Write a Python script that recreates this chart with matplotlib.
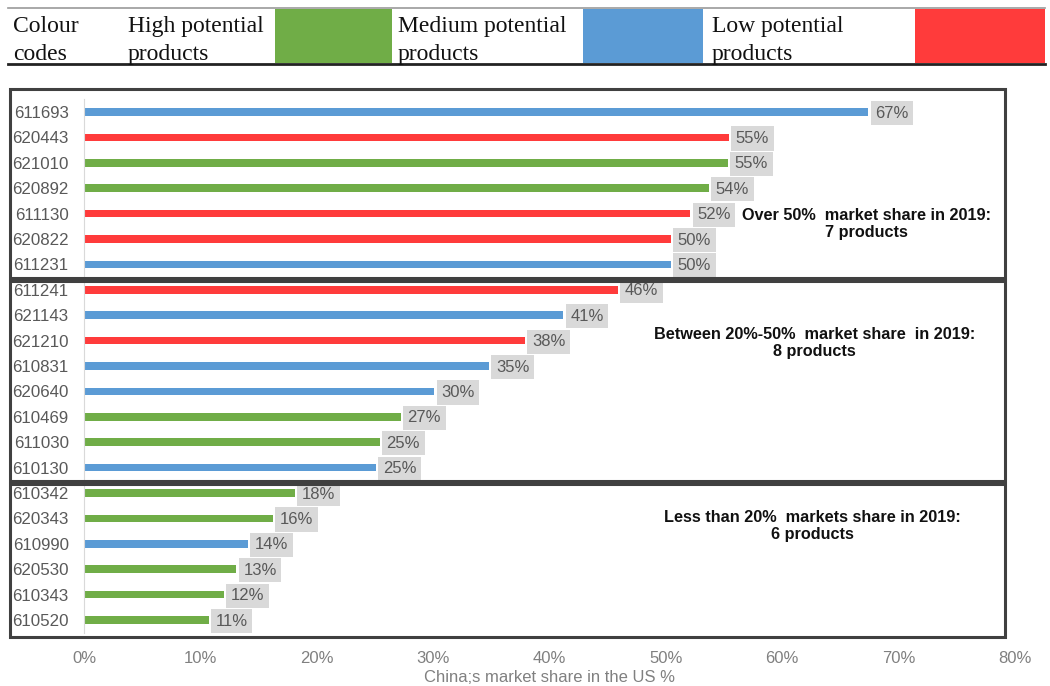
import matplotlib.pyplot as plt
from matplotlib.patches import Rectangle
from matplotlib.lines import Line2D

# product codes top to bottom, China's share of US market (%)
codes = ['611693', '620443', '621010', '620892', '611130', '620822', '611231',
         '611241', '621143', '621210', '610831', '620640', '610469', '611030', '610130',
         '610342', '620343', '610990', '620530', '610343', '610520']
shares = [67.4, 55.4, 55.3, 53.7, 52.1, 50.4, 50.4,
          45.9, 41.2, 37.9, 34.8, 30.1, 27.2, 25.4, 25.1,
          18.1, 16.2, 14.1, 13.1, 12.0, 10.7]
potential = ['low', 'high', 'med', 'med', 'high', 'high', 'low',
             'high', 'low', 'high', 'low', 'low', 'med', 'med', 'low',
             'med', 'med', 'low', 'med', 'med', 'med']
xticks = [0, 10, 20, 30, 40, 50, 60, 70, 80]

colours = {'med': '#70AD47', 'low': '#5B9BD5', 'high': '#FF3B3B'}

plt.rcParams['font.family'] = ['Liberation Sans', 'DejaVu Sans']
W, H = 1050, 686
fig = plt.figure(figsize=(W / 100, H / 100), dpi=100)

def fx(px):
    return px / W

def fy(py):
    return 1 - py / H

# colour code table at the top
serif = ['Liberation Serif', 'DejaVu Serif']
fig.add_artist(Line2D([fx(8), fx(1045)], [fy(8), fy(8)], color='#999999', lw=1.2))
fig.add_artist(Line2D([fx(8), fx(1045)], [fy(64), fy(64)], color='#222222', lw=2))
for x0, x1, c in [(275, 392, colours['med']), (583, 703, colours['low']), (915, 1045, colours['high'])]:
    fig.add_artist(Rectangle((fx(x0), fy(63)), fx(x1 - x0), (54 / H), facecolor=c, edgecolor='none'))
for x, line1, line2 in [(13, 'Colour', 'codes'), (128, 'High potential', 'products'),
                        (398, 'Medium potential', 'products'), (712, 'Low potential', 'products')]:
    fig.text(fx(x), fy(32), line1, family=serif, fontsize=17, va='baseline', ha='left',
             color='#111111')
    fig.text(fx(x), fy(60), line2, family=serif, fontsize=17, va='baseline', ha='left',
             color='#111111')

# bar chart
ax = fig.add_axes([fx(84), fy(632.7), fx(1015 - 84), (632.7 - 99.3) / H])
ypos = list(range(len(codes)))
ax.barh(ypos, shares, height=0.3, color=[colours[p] for p in potential])
for y, v in zip(ypos, shares):
    ax.annotate('{:.0f}%'.format(v), (v, y), xytext=(5, -0.8), textcoords='offset points',
                va='center', ha='left', fontsize=12, color='#595959',
                bbox=dict(boxstyle='square,pad=0.28', facecolor='#D9D9D9', edgecolor='none'))

ax.set_xlim(0, 80)
ax.set_ylim(len(codes) - 0.5, -0.5)
ax.set_yticks(ypos)
ax.set_yticklabels(codes, fontsize=12.2, color='#595959')
ax.set_xticks(xticks)
ax.set_xticklabels(['{}%'.format(t) for t in xticks], fontsize=12, color='#808080')
ax.tick_params(axis='both', length=0)
ax.tick_params(axis='y', pad=11)
ax.tick_params(axis='x', pad=13)
ax.set_xlabel('China;s market share in the US %', fontsize=12, color='#808080', labelpad=3)
for s in ['top', 'right', 'bottom']:
    ax.spines[s].set_visible(False)
ax.spines['left'].set_color('#D9D9D9')

ax.text(67.2, 4.4, 'Over 50%  market share in 2019:\n7 products', fontsize=11.7,
        fontweight='bold', ha='center', va='center', color='#111111')
ax.text(62.8, 9.1, 'Between 20%-50%  market share  in 2019:\n8 products', fontsize=11.7,
        fontweight='bold', ha='center', va='center', color='#111111')
ax.text(62.6, 16.3, 'Less than 20%  markets share in 2019:\n6 products', fontsize=11.7,
        fontweight='bold', ha='center', va='center', color='#111111')

# group boxes
for top, bot in [(89, 278), (281, 481), (484, 637)]:
    fig.add_artist(Rectangle((fx(10), fy(bot)), fx(1005 - 10), (bot - top) / H,
                             facecolor='none', edgecolor='#404040', lw=2.2))

fig.savefig('out.png', dpi=100)
